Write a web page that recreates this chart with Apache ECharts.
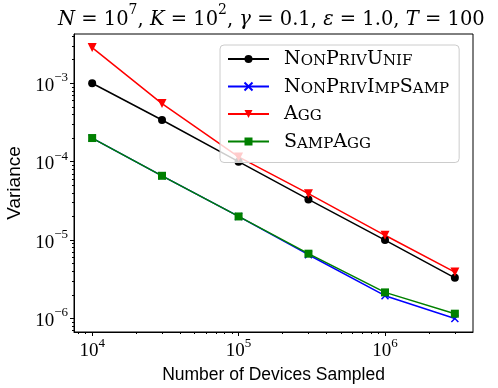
<!DOCTYPE html>
<html>
<head>
<meta charset="utf-8">
<script src="https://cdn.jsdelivr.net/npm/echarts@6/dist/echarts.min.js"></script>
<style>
  html, body { margin: 0; padding: 0; background: #fff; }
  #chart { width: 498px; height: 388px; }
</style>
</head>
<body>
<div id="chart"></div>
<script>
// number of devices sampled (x) and the variance of each method (y)
const devices = [1e4, 3e4, 1e5, 3e5, 1e6, 3e6];
const nonPrivUnif = [1.0e-3, 3.4e-4, 1.0e-4, 3.3e-5, 1.0e-5, 3.3e-6];
const nonPrivImpSamp = [2.0e-4, 6.6e-5, 2.0e-5, 6.5e-6, 1.95e-6, 1.0e-6];
const agg = [2.85e-3, 5.5e-4, 1.15e-4, 3.9e-5, 1.15e-5, 3.9e-6];
const sampAgg = [2.0e-4, 6.6e-5, 2.0e-5, 6.7e-6, 2.15e-6, 1.15e-6];

const seriesNames = ['NonPrivUnif', 'NonPrivImpSamp', 'Agg', 'SampAgg'];

// tick positions
const xMajorTicks = [1e4, 1e5, 1e6];
const xMinorTicks = [8e3, 9e3, 2e4, 3e4, 4e4, 5e4, 6e4, 7e4, 8e4, 9e4,
  2e5, 3e5, 4e5, 5e5, 6e5, 7e5, 8e5, 9e5, 2e6, 3e6];
const yMajorTicks = [1e-6, 1e-5, 1e-4, 1e-3];
const yMinorTicks = [7e-7, 8e-7, 9e-7, 2e-6, 3e-6, 4e-6, 5e-6, 6e-6, 7e-6, 8e-6, 9e-6,
  2e-5, 3e-5, 4e-5, 5e-5, 6e-5, 7e-5, 8e-5, 9e-5,
  2e-4, 3e-4, 4e-4, 5e-4, 6e-4, 7e-4, 8e-4, 9e-4, 2e-3, 3e-3, 4e-3];

// axis limits (matplotlib-style 5% margins in log space)
const xMin = Math.pow(10, 3.876), xMax = Math.pow(10, 6.601);
const yMin = Math.pow(10, -6.1728), yMax = Math.pow(10, -2.372);

const SERIF = '"Liberation Serif", "DejaVu Serif", serif';
const WIDE_SERIF = '"DejaVu Serif", "Liberation Serif", serif';
const SANS = '"Liberation Sans", "DejaVu Sans", sans-serif';

const pairs = ys => devices.map((x, i) => [x, ys[i]]);

function powLabel(v) {
  const e = Math.round(Math.log10(v));
  return '{b|10}{u|' + String(e).replace('-', '\u2212') + '}';
}

const tickRich = {
  b: { fontFamily: SERIF, fontSize: 19, color: '#000', lineHeight: 24, verticalAlign: 'bottom' },
  u: { fontFamily: SERIF, fontSize: 13, color: '#000', lineHeight: 13, verticalAlign: 'top' }
};

function smallCaps(name) {
  return name.replace(/([A-Z])|([a-z]+)/g, (m, up, low) =>
    up ? '{c|' + up + '}' : '{s|' + low.toUpperCase() + '}');
}

const chart = echarts.init(document.getElementById('chart'), null, { renderer: 'canvas' });

const baseAxis = {
  type: 'log',
  logBase: 10,
  splitLine: { show: false },
  minorTick: { show: false },
  minorSplitLine: { show: false }
};

chart.setOption({
  animation: false,
  backgroundColor: '#fff',
  title: {
    text: '{i|N}{m| = 10}{u|7}{m|, }{i|K}{m| = 10}{u|2}{m|, }{i|\u03b3}{m| = 0.1, }{i|\u03b5}{m| = 1.0, }{i|T}{m| = 100}',
    left: 58,
    top: 3,
    padding: 0,
    textStyle: {
      fontWeight: 'normal',
      rich: {
        i: { fontFamily: WIDE_SERIF, fontStyle: 'italic', fontWeight: 'normal', fontSize: 19.5, color: '#000', lineHeight: 27, verticalAlign: 'bottom' },
        m: { fontFamily: WIDE_SERIF, fontWeight: 'normal', fontSize: 19.5, color: '#000', lineHeight: 27, verticalAlign: 'bottom' },
        u: { fontFamily: WIDE_SERIF, fontWeight: 'normal', fontSize: 14, color: '#000', lineHeight: 14, verticalAlign: 'top' }
      }
    }
  },
  grid: {
    left: 74, right: 25, top: 34, bottom: 56,
    show: true, borderColor: '#000', borderWidth: 1, backgroundColor: 'transparent',
    containLabel: false, outerBoundsMode: 'none'
  },
  legend: {
    orient: 'vertical',
    left: 220,
    top: 45,
    itemWidth: 41,
    itemHeight: 10,
    itemGap: 8.5,
    padding: [5, 10, 11, 7],
    backgroundColor: 'rgba(255,255,255,0.8)',
    borderColor: '#cccccc',
    borderWidth: 1,
    borderRadius: 4,
    data: seriesNames,
    formatter: smallCaps,
    textStyle: {
      padding: [0, 0, 0, 10],
      rich: {
        c: { fontFamily: WIDE_SERIF, fontSize: 19, color: '#000', lineHeight: 16, verticalAlign: 'bottom' },
        s: { fontFamily: WIDE_SERIF, fontSize: 15, color: '#000', lineHeight: 20, verticalAlign: 'bottom' }
      }
    }
  },
  xAxis: [
    Object.assign({}, baseAxis, {
      min: xMin, max: xMax,
      name: 'Number of Devices Sampled',
      nameLocation: 'middle',
      nameGap: 22,
      nameTextStyle: { fontFamily: SANS, fontSize: 17.5, color: '#000' },
      axisLine: { show: true, lineStyle: { color: '#000', width: 1 } },
      axisTick: { show: true, customValues: xMajorTicks, length: 4, lineStyle: { color: '#000', width: 1 } },
      axisLabel: { customValues: xMajorTicks, formatter: powLabel, margin: 5, rich: tickRich }
    }),
    Object.assign({}, baseAxis, {
      min: xMin, max: xMax,
      position: 'bottom',
      axisLine: { show: false },
      axisTick: { show: true, customValues: xMinorTicks, length: 2, lineStyle: { color: '#000', width: 1 } },
      axisLabel: { show: false }
    })
  ],
  yAxis: [
    Object.assign({}, baseAxis, {
      min: yMin, max: yMax,
      name: 'Variance',
      nameLocation: 'middle',
      nameGap: 45,
      nameTextStyle: { fontFamily: SANS, fontSize: 19, color: '#000' },
      axisLine: { show: true, lineStyle: { color: '#000', width: 1 } },
      axisTick: { show: true, customValues: yMajorTicks, length: 4, lineStyle: { color: '#000', width: 1 } },
      axisLabel: { customValues: yMajorTicks, formatter: powLabel, margin: 6, rich: tickRich }
    }),
    Object.assign({}, baseAxis, {
      min: yMin, max: yMax,
      position: 'left',
      axisLine: { show: false },
      axisTick: { show: true, customValues: yMinorTicks, length: 2, lineStyle: { color: '#000', width: 1 } },
      axisLabel: { show: false }
    })
  ],
  series: [
    {
      name: 'NonPrivUnif', type: 'line', data: pairs(nonPrivUnif),
      symbol: 'circle', symbolSize: 8,
      lineStyle: { color: '#000000', width: 1.5 },
      itemStyle: { color: '#000000' }
    },
    {
      name: 'NonPrivImpSamp', type: 'line', data: pairs(nonPrivImpSamp),
      symbol: 'path://M0,0L10,10M10,0L0,10', symbolSize: 7,
      lineStyle: { color: '#0000ff', width: 1.5 },
      itemStyle: { color: '#0000ff', borderColor: '#0000ff', borderWidth: 1.5 }
    },
    {
      name: 'Agg', type: 'line', data: pairs(agg),
      symbol: 'triangle', symbolRotate: 180, symbolSize: 9,
      lineStyle: { color: '#ff0000', width: 1.5 },
      itemStyle: { color: '#ff0000' }
    },
    {
      name: 'SampAgg', type: 'line', data: pairs(sampAgg),
      symbol: 'rect', symbolSize: 8,
      lineStyle: { color: '#008000', width: 1.5 },
      itemStyle: { color: '#008000' }
    }
  ]
});
</script>
</body>
</html>
